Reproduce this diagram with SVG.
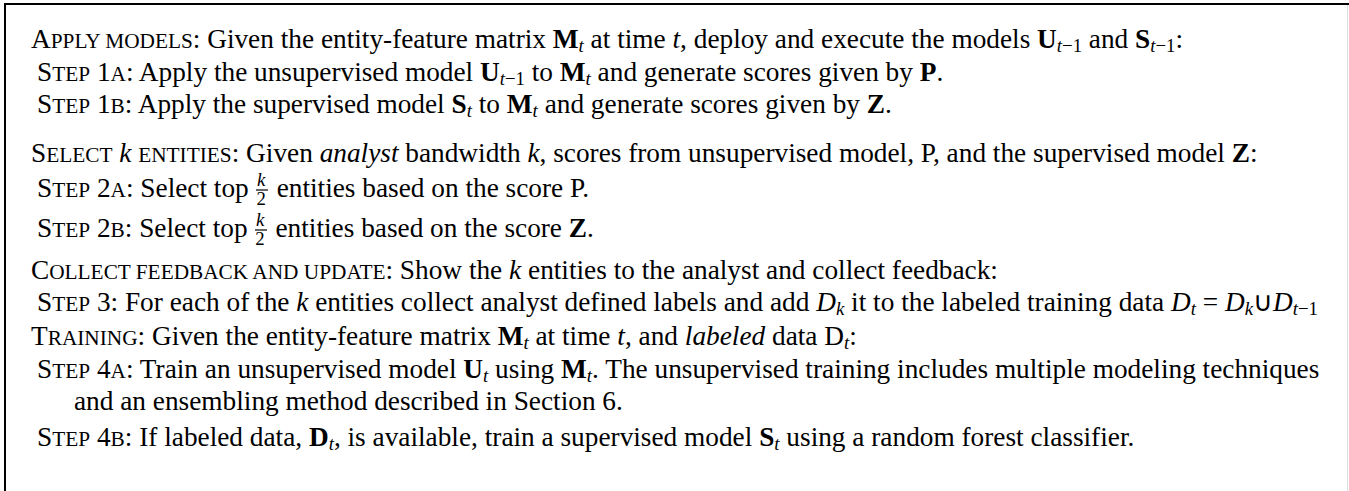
<svg xmlns="http://www.w3.org/2000/svg" width="1349" height="491" viewBox="0 0 1349 491">
<style>
text{font-family:"Liberation Serif","Times New Roman",serif;font-size:27.3px;fill:#000}
.s{font-size:21.3px}
.b{font-weight:bold}
.i{font-style:italic}
.sub{font-size:18.8px}
.fr{font-size:18.8px}
.bar{stroke:#000;stroke-width:1.2}
</style>
<rect width="1349" height="491" fill="#fff"/>
<g id="frame">
<line x1="4" y1="4" x2="1349" y2="4" stroke="#000" stroke-width="2"/>
<line x1="5" y1="4" x2="5" y2="491" stroke="#000" stroke-width="2"/>
<line x1="1347.5" y1="5" x2="1347.5" y2="491" stroke="#ddd" stroke-width="1"/>
</g>
<g id="apply">
<text x="31" y="48">A<tspan class="s">PPLY MODELS</tspan>: Given the entity-feature matrix <tspan class="b">M</tspan><tspan class="sub i" dy="4">t</tspan><tspan dy="-4"> at time </tspan><tspan class="i">t</tspan>, deploy and execute the models <tspan class="b">U</tspan><tspan class="sub" dy="4"><tspan class="i">t</tspan>−1</tspan><tspan dy="-4"> and </tspan><tspan class="b">S</tspan><tspan class="sub" dy="4"><tspan class="i">t</tspan>−1</tspan><tspan dy="-4">:</tspan></text>
<text x="37" y="81">S<tspan class="s">TEP</tspan> 1<tspan class="s">A</tspan>: Apply the unsupervised model <tspan class="b">U</tspan><tspan class="sub" dy="4"><tspan class="i">t</tspan>−1</tspan><tspan dy="-4"> to </tspan><tspan class="b">M</tspan><tspan class="sub i" dy="4">t</tspan><tspan dy="-4"> and generate scores given by </tspan><tspan class="b">P</tspan>.</text>
<text x="37" y="113">S<tspan class="s">TEP</tspan> 1<tspan class="s">B</tspan>: Apply the supervised model <tspan class="b">S</tspan><tspan class="sub i" dy="4">t</tspan><tspan dy="-4"> to </tspan><tspan class="b">M</tspan><tspan class="sub i" dy="4">t</tspan><tspan dy="-4"> and generate scores given by </tspan><tspan class="b">Z</tspan>.</text>
</g>
<g id="select">
<text x="31" y="162">S<tspan class="s">ELECT</tspan> <tspan class="i">k</tspan> <tspan class="s">ENTITIES</tspan>: Given <tspan class="i">analyst</tspan> bandwidth <tspan class="i">k</tspan>, scores from unsupervised model, P, and the supervised model <tspan class="b">Z</tspan>:</text>
<text x="37" y="197">S<tspan class="s">TEP</tspan> 2<tspan class="s">A</tspan>: Select top <tspan class="fr i" dx="1.5" dy="-11">k</tspan><tspan class="fr" dx="-9" dy="19">2</tspan><tspan dx="4" dy="-8"> entities based on the score P.</tspan></text>
<line class="bar" x1="256" y1="190" x2="268" y2="190"/>
<text x="37" y="237">S<tspan class="s">TEP</tspan> 2<tspan class="s">B</tspan>: Select top <tspan class="fr i" dx="1.5" dy="-11">k</tspan><tspan class="fr" dx="-9" dy="19">2</tspan><tspan dx="4" dy="-8"> entities based on the score </tspan><tspan class="b">Z</tspan>.</text>
<line class="bar" x1="255" y1="230" x2="267" y2="230"/>
</g>
<g id="collect">
<text x="31" y="279">C<tspan class="s">OLLECT FEEDBACK AND UPDATE</tspan>: Show the <tspan class="i">k</tspan> entities to the analyst and collect feedback:</text>
<text x="37" y="311">S<tspan class="s">TEP</tspan> 3: For each of the <tspan class="i">k</tspan> entities collect analyst defined labels and add <tspan class="i">D</tspan><tspan class="sub i" dy="4">k</tspan><tspan dy="-4"> it to the labeled training data </tspan><tspan class="i">D</tspan><tspan class="sub i" dy="4">t</tspan><tspan dy="-4"> = </tspan><tspan class="i">D</tspan><tspan class="sub i" dy="4">k</tspan><tspan dy="-4">∪</tspan><tspan class="i">D</tspan><tspan class="sub" dy="4"><tspan class="i">t</tspan>−1</tspan></text>
</g>
<g id="training">
<text x="31" y="345">T<tspan class="s">RAINING</tspan>: Given the entity-feature matrix <tspan class="b">M</tspan><tspan class="sub i" dy="4">t</tspan><tspan dy="-4"> at time </tspan><tspan class="i">t</tspan>, and <tspan class="i">labeled</tspan> data D<tspan class="sub i" dy="4">t</tspan><tspan dy="-4">:</tspan></text>
<text x="37" y="378">S<tspan class="s">TEP</tspan> 4<tspan class="s">A</tspan>: Train an unsupervised model <tspan class="b">U</tspan><tspan class="sub i" dy="4">t</tspan><tspan dy="-4"> using </tspan><tspan class="b">M</tspan><tspan class="sub i" dy="4">t</tspan><tspan dy="-4">. The unsupervised training includes multiple modeling techniques</tspan></text>
<text x="74" y="410">and an ensembling method described in Section 6.</text>
<text x="37" y="446">S<tspan class="s">TEP</tspan> 4<tspan class="s">B</tspan>: If labeled data, <tspan class="b">D</tspan><tspan class="sub i" dy="4">t</tspan><tspan dy="-4">, is available, train a supervised model </tspan><tspan class="b">S</tspan><tspan class="sub i" dy="4">t</tspan><tspan dy="-4"> using a random forest classifier.</tspan></text>
</g>
</svg>
